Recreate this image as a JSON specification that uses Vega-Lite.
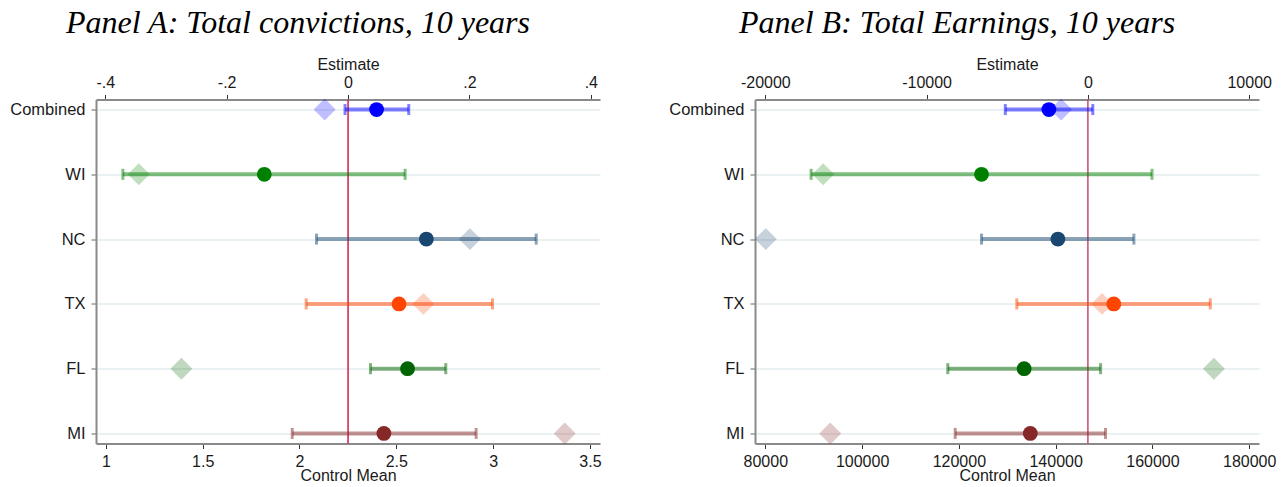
{
  "$schema": "https://vega.github.io/schema/vega-lite/v6.json",
  "padding": {"left": 9, "right": 0, "top": 6.5, "bottom": 0},
  "spacing": 66,
  "datasets": {
    "convictions": [
      {"state": "Combined", "est": 0.047, "lo": -0.005, "hi": 0.100, "cm": 2.13},
      {"state": "WI", "est": -0.138, "lo": -0.371, "hi": 0.094, "cm": 1.17},
      {"state": "NC", "est": 0.129, "lo": -0.052, "hi": 0.310, "cm": 2.88},
      {"state": "TX", "est": 0.084, "lo": -0.069, "hi": 0.238, "cm": 2.64},
      {"state": "FL", "est": 0.098, "lo": 0.037, "hi": 0.161, "cm": 1.39},
      {"state": "MI", "est": 0.059, "lo": -0.092, "hi": 0.211, "cm": 3.37}
    ],
    "earnings": [
      {"state": "Combined", "est": -2418, "lo": -5121, "hi": 304, "cm": 141120},
      {"state": "WI", "est": -6596, "lo": -17161, "hi": 3974, "cm": 91968},
      {"state": "NC", "est": -1860, "lo": -6596, "hi": 2852, "cm": 80100},
      {"state": "TX", "est": 1606, "lo": -4408, "hi": 7588, "cm": 149610},
      {"state": "FL", "est": -3952, "lo": -8686, "hi": 787, "cm": 172700},
      {"state": "MI", "est": -3570, "lo": -8227, "hi": 1091, "cm": 93415}
    ]
  },
  "hconcat": [
    {
      "title": {"text": "Panel A: Total convictions, 10 years"},
      "width": 504,
      "height": 344,
      "data": {"name": "convictions"},
      "resolve": {"scale": {"x": "independent"}},
      "layer": [
        {
          "layer": [
            {
              "data": {"values": [{}]},
              "mark": {"type": "rule", "color": "#d41c4c", "strokeWidth": 1.5},
              "encoding": {
                "x": {"datum": 0, "type": "quantitative", "title": "Estimate",
                  "scale": {"domain": [-0.4153, 0.4151], "nice": false, "zero": false},
                  "axis": {"orient": "top", "values": [-0.4, -0.2, 0, 0.2, 0.4],
                    "labelExpr": "datum.value == 0 ? '0' : replace(replace(format(datum.value, '.1f'), '\u2212', '-'), '0.', '.')"}}
              }
            },
            {
              "mark": {"type": "rule", "strokeWidth": 4, "opacity": 0.5},
              "encoding": {
                "y": {"field": "state", "type": "nominal", "sort": ["Combined", "WI", "NC", "TX", "FL", "MI"], "scale": {"type": "point", "padding": 0.155}, "title": null},
                "x": {"field": "lo", "type": "quantitative", "title": "Estimate", "scale": {"domain": [-0.4153, 0.4151], "nice": false, "zero": false}},
                "x2": {"field": "hi"},
                "color": {"field": "state", "type": "nominal", "legend": null,
                  "scale": {"domain": ["Combined", "WI", "NC", "TX", "FL", "MI"], "range": ["#0000ff", "#008000", "#1a476f", "#ff4500", "#006400", "#862828"]}}
              }
            },
            {
              "mark": {"type": "tick", "thickness": 3, "size": 11, "opacity": 0.5},
              "encoding": {
                "y": {"field": "state", "type": "nominal", "sort": ["Combined", "WI", "NC", "TX", "FL", "MI"], "scale": {"type": "point", "padding": 0.155}, "title": null},
                "x": {"field": "lo", "type": "quantitative", "title": "Estimate", "scale": {"domain": [-0.4153, 0.4151], "nice": false, "zero": false}},
                "color": {"field": "state", "type": "nominal", "legend": null}
              }
            },
            {
              "mark": {"type": "tick", "thickness": 3, "size": 11, "opacity": 0.5},
              "encoding": {
                "y": {"field": "state", "type": "nominal", "sort": ["Combined", "WI", "NC", "TX", "FL", "MI"], "scale": {"type": "point", "padding": 0.155}, "title": null},
                "x": {"field": "hi", "type": "quantitative", "title": "Estimate", "scale": {"domain": [-0.4153, 0.4151], "nice": false, "zero": false}},
                "color": {"field": "state", "type": "nominal", "legend": null}
              }
            },
            {
              "mark": {"type": "circle", "size": 220, "opacity": 1},
              "encoding": {
                "y": {"field": "state", "type": "nominal", "sort": ["Combined", "WI", "NC", "TX", "FL", "MI"], "scale": {"type": "point", "padding": 0.155}, "title": null},
                "x": {"field": "est", "type": "quantitative", "title": "Estimate", "scale": {"domain": [-0.4153, 0.4151], "nice": false, "zero": false}},
                "color": {"field": "state", "type": "nominal", "legend": null}
              }
            }
          ]
        },
        {
          "mark": {"type": "point", "shape": "diamond", "filled": true, "size": 480, "opacity": 0.25},
          "encoding": {
            "y": {"field": "state", "type": "nominal", "sort": ["Combined", "WI", "NC", "TX", "FL", "MI"], "scale": {"type": "point", "padding": 0.155}, "title": null},
            "x": {"field": "cm", "type": "quantitative", "title": "Control Mean",
              "scale": {"domain": [0.949, 3.552], "nice": false, "zero": false},
              "axis": {"orient": "bottom", "values": [1, 1.5, 2, 2.5, 3, 3.5], "labelExpr": "'' + datum.value", "labelPadding": 5, "titlePadding": -2}},
            "color": {"field": "state", "type": "nominal", "legend": null}
          }
        }
      ]
    },
    {
      "title": {"text": "Panel B: Total Earnings, 10 years"},
      "width": 504,
      "height": 344,
      "data": {"name": "earnings"},
      "resolve": {"scale": {"x": "independent"}},
      "layer": [
        {
          "layer": [
            {
              "data": {"values": [{}]},
              "mark": {"type": "rule", "color": "#cc4a66", "strokeWidth": 1.5},
              "encoding": {
                "x": {"datum": 0, "type": "quantitative", "title": "Estimate",
                  "scale": {"domain": [-20639, 10608], "nice": false, "zero": false},
                  "axis": {"orient": "top", "values": [-20000, -10000, 0, 10000], "labelExpr": "'' + datum.value"}}
              }
            },
            {
              "mark": {"type": "rule", "strokeWidth": 4, "opacity": 0.5},
              "encoding": {
                "y": {"field": "state", "type": "nominal", "sort": ["Combined", "WI", "NC", "TX", "FL", "MI"], "scale": {"type": "point", "padding": 0.155}, "title": null},
                "x": {"field": "lo", "type": "quantitative", "title": "Estimate", "scale": {"domain": [-20639, 10608], "nice": false, "zero": false}},
                "x2": {"field": "hi"},
                "color": {"field": "state", "type": "nominal", "legend": null}
              }
            },
            {
              "mark": {"type": "tick", "thickness": 3, "size": 11, "opacity": 0.5},
              "encoding": {
                "y": {"field": "state", "type": "nominal", "sort": ["Combined", "WI", "NC", "TX", "FL", "MI"], "scale": {"type": "point", "padding": 0.155}, "title": null},
                "x": {"field": "lo", "type": "quantitative", "title": "Estimate", "scale": {"domain": [-20639, 10608], "nice": false, "zero": false}},
                "color": {"field": "state", "type": "nominal", "legend": null}
              }
            },
            {
              "mark": {"type": "tick", "thickness": 3, "size": 11, "opacity": 0.5},
              "encoding": {
                "y": {"field": "state", "type": "nominal", "sort": ["Combined", "WI", "NC", "TX", "FL", "MI"], "scale": {"type": "point", "padding": 0.155}, "title": null},
                "x": {"field": "hi", "type": "quantitative", "title": "Estimate", "scale": {"domain": [-20639, 10608], "nice": false, "zero": false}},
                "color": {"field": "state", "type": "nominal", "legend": null}
              }
            },
            {
              "mark": {"type": "circle", "size": 220, "opacity": 1},
              "encoding": {
                "y": {"field": "state", "type": "nominal", "sort": ["Combined", "WI", "NC", "TX", "FL", "MI"], "scale": {"type": "point", "padding": 0.155}, "title": null},
                "x": {"field": "est", "type": "quantitative", "title": "Estimate", "scale": {"domain": [-20639, 10608], "nice": false, "zero": false}},
                "color": {"field": "state", "type": "nominal", "legend": null}
              }
            }
          ]
        },
        {
          "mark": {"type": "point", "shape": "diamond", "filled": true, "size": 480, "opacity": 0.25},
          "encoding": {
            "y": {"field": "state", "type": "nominal", "sort": ["Combined", "WI", "NC", "TX", "FL", "MI"], "scale": {"type": "point", "padding": 0.155}, "title": null},
            "x": {"field": "cm", "type": "quantitative", "title": "Control Mean",
              "scale": {"domain": [77871, 182026], "nice": false, "zero": false},
              "axis": {"orient": "bottom", "values": [80000, 100000, 120000, 140000, 160000, 180000], "labelExpr": "'' + datum.value", "labelPadding": 5, "titlePadding": -2}},
            "color": {"field": "state", "type": "nominal", "legend": null}
          }
        }
      ]
    }
  ],
  "config": {
    "view": {"stroke": null},
    "title": {"font": "Liberation Serif", "fontStyle": "italic", "fontSize": 32, "fontWeight": "normal", "color": "#000000", "anchor": "middle", "dx": -50, "baseline": "alphabetic", "offset": 16},
    "axis": {
      "labelFont": "Liberation Sans", "labelFontSize": 16, "labelColor": "#1a1a1a",
      "titleFont": "Liberation Sans", "titleFontSize": 16, "titleFontWeight": "normal", "titleColor": "#1a1a1a",
      "domainColor": "#8a8a8a", "domainWidth": 2, "tickColor": "#333333", "tickSize": 5, "grid": false
    },
    "axisTop": {"labelPadding": 4.5, "titlePadding": 2},
    "axisY": {"grid": true, "gridColor": "#eaf1f2", "gridWidth": 2, "tickColor": "#666666", "labelPadding": 6, "labelFontSize": 16.5}
  }
}
